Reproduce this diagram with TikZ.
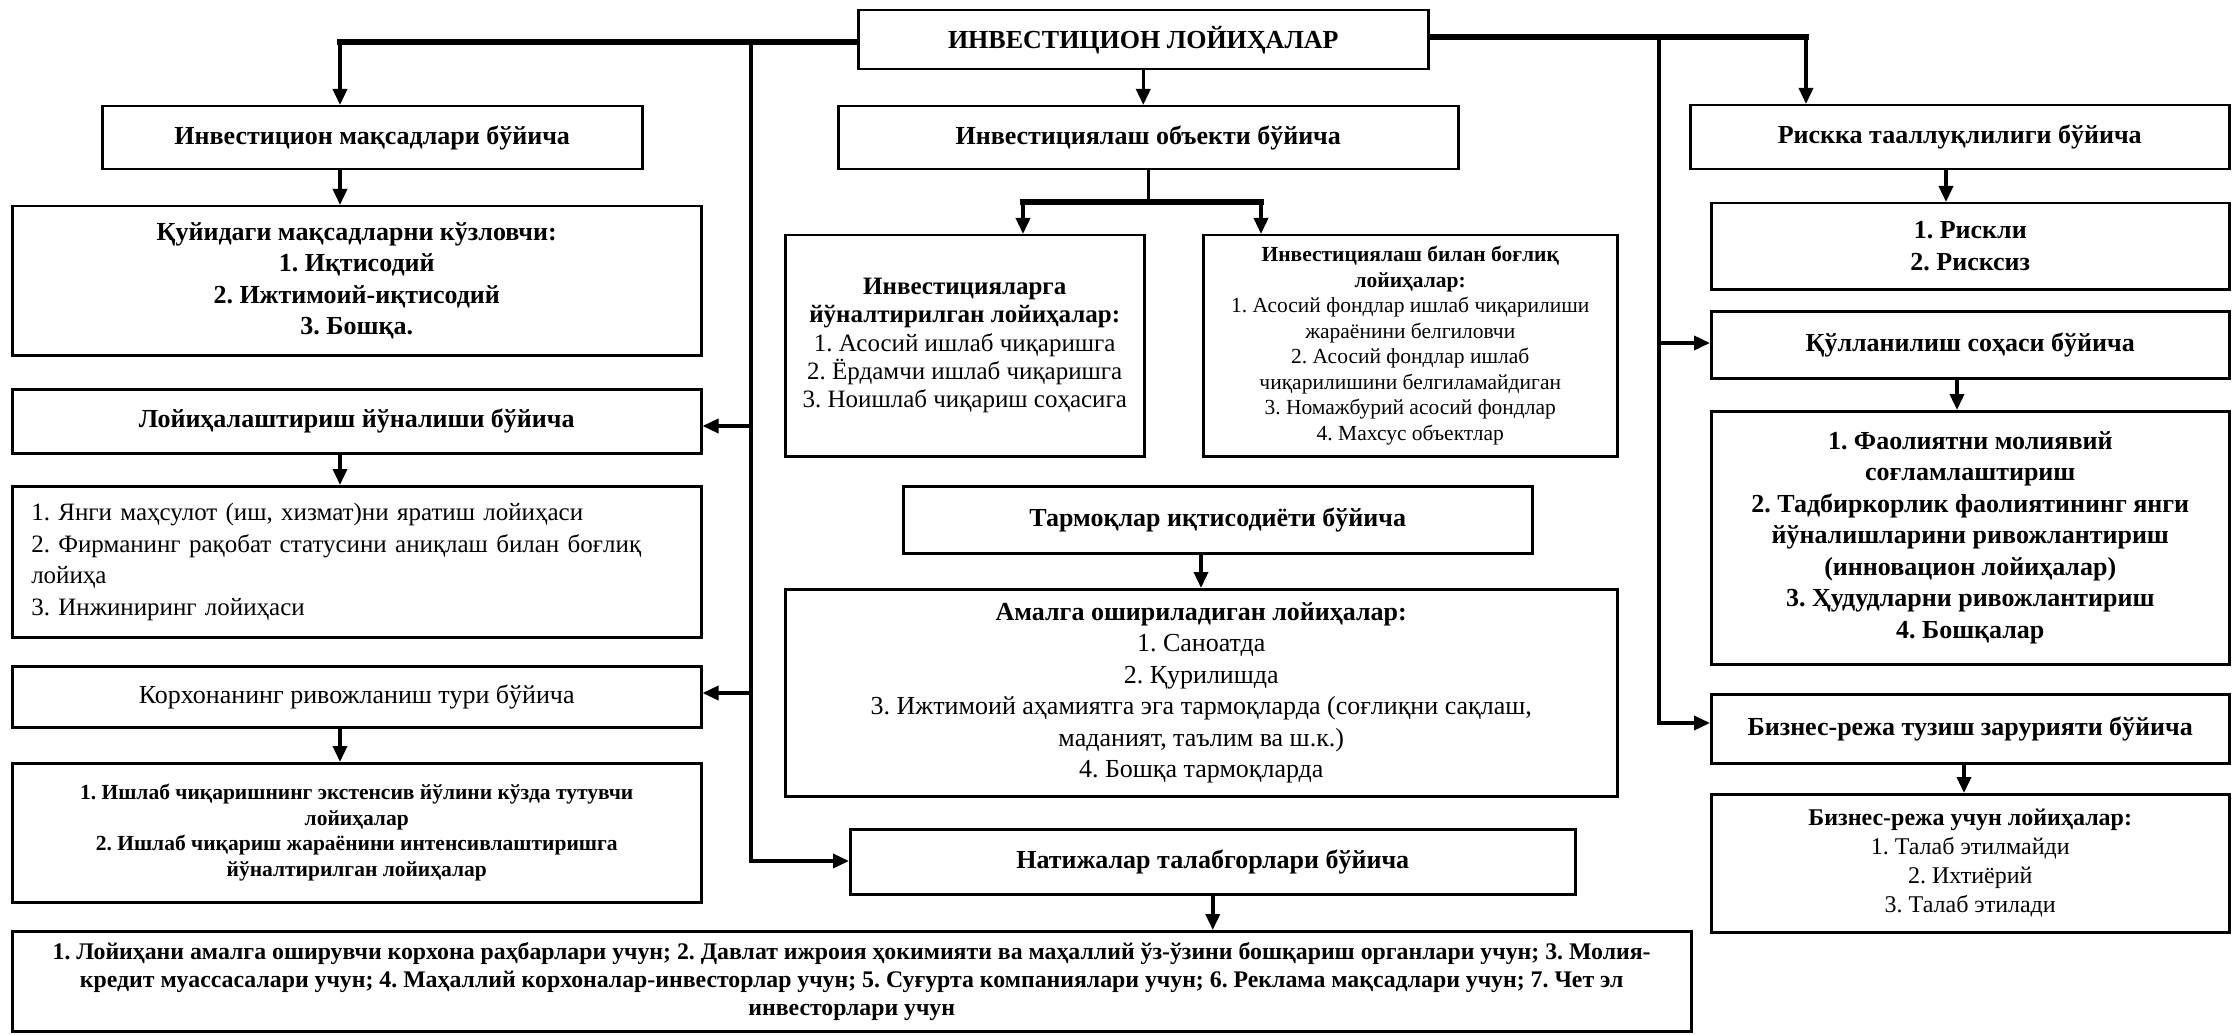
\documentclass[tikz,border=0pt]{standalone}
\usepackage{fontspec}
\setmainfont{Liberation Serif}
\usetikzlibrary{arrows.meta}
\begin{document}
\frenchspacing
\begin{tikzpicture}[x=1pt,y=-1pt,
  box/.style={draw, line width=2.5pt, inner sep=0pt, align=center, anchor=north west},
  trunk/.style={line width=3.5pt},
  thk/.style={line width=5.5pt, line cap=rect},
  arr/.style={line width=3.5pt, -{Triangle[length=16pt,width=14pt]}},
  fA/.style={font=\fontsize{26}{31.5}\selectfont},
  fY/.style={font=\fontsize{25}{31.5}\selectfont},
  fB/.style={font=\fontsize{25}{28.3}\selectfont},
  fC/.style={font=\fontsize{21.5}{25.5}\selectfont},
  fD/.style={font=\fontsize{24}{29}\selectfont},
  fE/.style={font=\fontsize{23.8}{28}\selectfont},
]
\useasboundingbox[fill=white] (0,0) rectangle (2233,1035);

% left column
\node[box,fA,minimum width=570,minimum height=59] (title) at (857,9) {\bfseries ИНВЕСТИЦИОН ЛОЙИҲАЛАР};
\node[box,fA,minimum width=540,minimum height=63] (maqsad) at (101,105) {\bfseries Инвестицион мақсадлари бўйича};
\node[box,fA,minimum width=689,minimum height=149] (quyidagi) at (11,205) {\bfseries Қуйидаги мақсадларни кўзловчи:\\\bfseries 1. Иқтисодий\\\bfseries 2. Ижтимоий-иқтисодий\\\bfseries 3. Бошқа.};
\node[box,fA,minimum width=689,minimum height=64] (loyih) at (11,388) {\bfseries Лойиҳалаштириш йўналиши бўйича};
\node[box,fY,minimum width=689,minimum height=151,text width=651,align=left] (yangi) at (11,485) {1. Янги маҳсулот (иш, хизмат)ни яратиш лойиҳаси\\2. Фирманинг рақобат статусини аниқлаш билан боғлиқ\\лойиҳа\\3. Инжиниринг лойиҳаси};
\node[box,fA,minimum width=689,minimum height=61] (korxona) at (11,665) {Корхонанинг ривожланиш тури бўйича};
\node[box,fC,minimum width=689,minimum height=139] (ishlab) at (11,762) {\bfseries 1. Ишлаб чиқаришнинг экстенсив йўлини кўзда тутувчи\\\bfseries лойиҳалар\\\bfseries 2. Ишлаб чиқариш жараёнини интенсивлаштиришга\\\bfseries йўналтирилган лойиҳалар};
\node[box,fE,minimum width=1679,minimum height=100] (bottom) at (11,930) {\bfseries 1. Лойиҳани амалга оширувчи корхона раҳбарлари учун; 2. Давлат ижроия ҳокимияти ва маҳаллий ўз-ўзини бошқариш органлари учун; 3. Молия-\\\bfseries кредит муассасалари учун; 4. Маҳаллий корхоналар-инвесторлар учун; 5. Суғурта компаниялари учун; 6. Реклама мақсадлари учун; 7. Чет эл\\\bfseries инвесторлари учун};

% middle column
\node[box,fA,minimum width=620,minimum height=63] (obyekt) at (837,105) {\bfseries Инвестициялаш объекти бўйича};
\node[box,fB,minimum width=359,minimum height=221] (inv1) at (784,234) {\bfseries Инвестицияларга\\\bfseries йўналтирилган лойиҳалар:\\1. Асосий ишлаб чиқаришга\\2. Ёрдамчи ишлаб чиқаришга\\3. Ноишлаб чиқариш соҳасига};
\node[box,fC,minimum width=414,minimum height=221] (inv2) at (1202,234) {\bfseries Инвестициялаш билан боғлиқ\\\bfseries лойиҳалар:\\1. Асосий фондлар ишлаб чиқарилиши\\жараёнини белгиловчи\\2. Асосий фондлар ишлаб\\чиқарилишини белгиламайдиган\\3. Номажбурий асосий фондлар\\4. Махсус объектлар};
\node[box,fA,minimum width=629,minimum height=67] (tarmoq) at (902,485) {\bfseries Тармоқлар иқтисодиёти бўйича};
\node[box,fA,minimum width=832,minimum height=207] (amalga) at (784,588) {\bfseries Амалга ошириладиган лойиҳалар:\\1. Саноатда\\2. Қурилишда\\3. Ижтимоий аҳамиятга эга тармоқларда (соғлиқни сақлаш,\\маданият, таълим ва ш.к.)\\4. Бошқа тармоқларда};
\node[box,fA,minimum width=725,minimum height=65] (natija) at (849,828) {\bfseries Натижалар талабгорлари бўйича};

% right column
\node[box,fA,minimum width=539,minimum height=64] (risk) at (1689,104) {\bfseries Рискка тааллуқлилиги бўйича};
\node[box,fA,minimum width=518,minimum height=86] (riskli) at (1710,202) {\bfseries 1. Рискли\\\bfseries 2. Рисксиз};
\node[box,fA,minimum width=518,minimum height=67] (qollan) at (1710,310) {\bfseries Қўлланилиш соҳаси бўйича};
\node[box,fA,minimum width=518,minimum height=253] (faoliyat) at (1710,410) {\bfseries 1. Фаолиятни молиявий\\\bfseries соғламлаштириш\\\bfseries 2. Тадбиркорлик фаолиятининг янги\\\bfseries йўналишларини ривожлантириш\\\bfseries (инновацион лойиҳалар)\\\bfseries 3. Ҳудудларни ривожлантириш\\\bfseries 4. Бошқалар};
\node[box,fA,minimum width=518,minimum height=69] (biz1) at (1710,693) {\bfseries Бизнес-режа тузиш зарурияти бўйича};
\node[box,fD,minimum width=518,minimum height=138] (biz2) at (1710,793) {\bfseries Бизнес-режа учун лойиҳалар:\\1. Талаб этилмайди\\2. Ихтиёрий\\3. Талаб этилади};

% guide coordinates
\coordinate (jL) at (340,42);
\coordinate (tL) at (751,42);
\coordinate (jR) at (1806,37);
\coordinate (tR) at (1659,37);
\coordinate (bl) at (1023,202);
\coordinate (brr) at (1261,202);
\coordinate (xR1) at (1946,0);
\coordinate (xR2) at (1957,0);
\coordinate (xR3) at (1964,0);
\coordinate (xM1) at (1201,0);
\coordinate (yLo) at (0,426);
\coordinate (yKo) at (0,693);
\coordinate (yNa) at (0,861);
\coordinate (yQo) at (0,343);
\coordinate (yBz) at (0,723);

% connectors from title
\draw[thk] (title.west |- jL) -- (jL);
\draw[arr] (jL) -- (jL |- maqsad.north);
\draw[thk] (title.east |- jR) -- (jR);
\draw[arr] (jR) -- (jR |- risk.north);
\draw[arr] (title.south) -- (title.south |- obyekt.north);

% left trunk
\draw[arr] (tL) |- (natija.west |- yNa);
\draw[arr] (tL |- yLo) -- (loyih.east |- yLo);
\draw[arr] (tL |- yKo) -- (korxona.east |- yKo);

% right trunk
\draw[arr] (tR) |- (biz1.west |- yBz);
\draw[arr] (tR |- yQo) -- (qollan.west |- yQo);

% object branch
\draw[trunk] (obyekt.south) -- (obyekt.south |- bl);
\draw[thk] (bl) -- (brr);
\draw[arr] (bl) -- (bl |- inv1.north);
\draw[arr] (brr) -- (brr |- inv2.north);

% stacked arrows
\draw[arr] (maqsad.south -| jL) -- (quyidagi.north -| jL);
\draw[arr] (loyih.south -| jL) -- (yangi.north -| jL);
\draw[arr] (korxona.south -| jL) -- (ishlab.north -| jL);
\draw[arr] (tarmoq.south -| xM1) -- (amalga.north -| xM1);
\draw[arr] (natija.south) -- (natija.south |- bottom.north);
\draw[arr] (risk.south -| xR1) -- (riskli.north -| xR1);
\draw[arr] (qollan.south -| xR2) -- (faoliyat.north -| xR2);
\draw[arr] (biz1.south -| xR3) -- (biz2.north -| xR3);
\end{tikzpicture}
\end{document}
